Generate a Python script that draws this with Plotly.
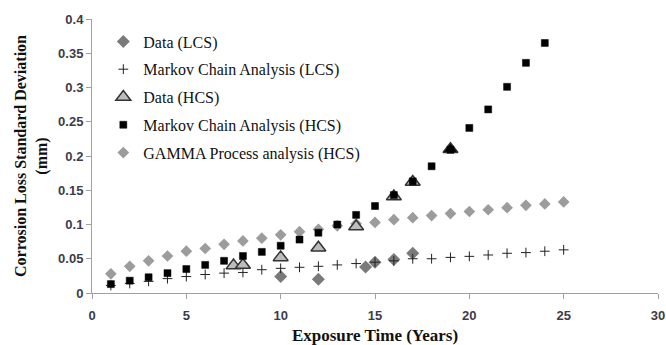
import plotly.graph_objects as go

# Data (LCS)
data_lcs_x = [10, 12, 14.5, 15, 16, 17]
data_lcs_y = [0.024, 0.020, 0.038, 0.045, 0.049, 0.058]

# Markov Chain Analysis (LCS)
mk_lcs_x = list(range(1, 26))
mk_lcs_y = [0.011, 0.014, 0.017, 0.021, 0.024, 0.027, 0.029, 0.030, 0.034, 0.036,
            0.0375, 0.039, 0.041, 0.043, 0.045, 0.047, 0.050, 0.050, 0.052, 0.0535,
            0.0555, 0.058, 0.059, 0.061, 0.063]

# Data (HCS)
data_hcs_x = [7.5, 8, 10, 12, 14, 16, 17, 19]
data_hcs_y = [0.040, 0.041, 0.052, 0.066, 0.097, 0.141, 0.162, 0.210]

# Markov Chain Analysis (HCS)
mk_hcs_x = list(range(1, 25))
mk_hcs_y = [0.013, 0.018, 0.023, 0.029, 0.035, 0.041, 0.047, 0.054, 0.060, 0.069,
            0.078, 0.088, 0.100, 0.114, 0.127, 0.143, 0.163, 0.185, 0.209, 0.241,
            0.268, 0.301, 0.336, 0.365]

# GAMMA Process analysis (HCS)
gamma_x = list(range(1, 26))
gamma_y = [0.028, 0.039, 0.047, 0.054, 0.061, 0.065, 0.071, 0.076, 0.080, 0.085,
           0.0895, 0.093, 0.098, 0.101, 0.103, 0.107, 0.110, 0.113, 0.116, 0.119,
           0.1215, 0.1245, 0.128, 0.130, 0.133]

x_ticks = [0, 5, 10, 15, 20, 25, 30]
y_ticks = [0, 0.05, 0.1, 0.15, 0.2, 0.25, 0.3, 0.35, 0.4]

tri_colors = ["#bdbdbd"] * (len(data_hcs_x) - 1) + ["#000000"]

fig = go.Figure()
fig.add_trace(go.Scatter(x=data_lcs_x, y=data_lcs_y, mode="markers", name="Data (LCS)",
                         legendgroup="a", legendrank=1001,
                         marker=dict(symbol="diamond", size=10, color="#7a7a7a")))
fig.add_trace(go.Scatter(x=mk_lcs_x, y=mk_lcs_y, mode="markers", name="Markov Chain Analysis (LCS)",
                         legendgroup="b", legendrank=1002,
                         marker=dict(symbol="cross-thin", size=7, color="#222",
                                     line=dict(width=1, color="#222"))))
fig.add_trace(go.Scatter(x=gamma_x, y=gamma_y, mode="markers", name="GAMMA Process analysis (HCS)",
                         legendgroup="e", legendrank=1005,
                         marker=dict(symbol="diamond", size=9, color="#9c9c9c")))
fig.add_trace(go.Scatter(x=data_hcs_x, y=data_hcs_y, mode="markers", name="Data (HCS)",
                         legendgroup="c", legendrank=1003,
                         marker=dict(symbol="triangle-up", size=13, color=tri_colors,
                                     line=dict(width=1.5, color="#333"))))
fig.add_trace(go.Scatter(x=mk_hcs_x, y=mk_hcs_y, mode="markers", name="Markov Chain Analysis (HCS)",
                         legendgroup="d", legendrank=1004,
                         marker=dict(symbol="square", size=7, color="#000",
                                     line=dict(width=0.5, color="#000"))))

tick_font = dict(family="Liberation Sans, Arial", size=13, color="#3c3c4a", weight="bold")
serif = "Liberation Serif, Times New Roman"

fig.update_layout(
    width=666, height=345,
    margin=dict(l=92, r=8, t=19, b=52),
    paper_bgcolor="white", plot_bgcolor="white",
    showlegend=True,
    legend=dict(x=0.02, y=0.98, xanchor="left", yanchor="top",
                font=dict(family=serif, size=16, color="#111"),
                tracegroupgap=4, bgcolor="rgba(0,0,0,0)", itemwidth=30),
    xaxis=dict(range=[0, 30], tickvals=x_ticks, showgrid=False, zeroline=False,
               automargin=False,
               showline=True, linecolor="#a0a0a0", linewidth=1,
               ticks="outside", ticklen=5, tickcolor="#a0a0a0",
               tickfont=tick_font, ticklabelstandoff=5,
               title=dict(text="<b>Exposure Time (Years)</b>",
                          font=dict(family=serif, size=17, color="#111"), standoff=7)),
    yaxis=dict(range=[0, 0.4], tickvals=y_ticks, showgrid=False, zeroline=False,
               automargin=False,
               showline=True, linecolor="#a0a0a0", linewidth=1,
               ticks="outside", ticklen=5, tickcolor="#a0a0a0",
               tickfont=tick_font,
               title=dict(text="<b>Corrosion Loss Standard Deviation<br>(mm)</b>",
                          font=dict(family=serif, size=16, color="#111"), standoff=6)),
)

fig.write_html("out.html", config={"displayModeBar": False},
               post_script="document.body.style.margin='0';document.body.style.overflow='hidden';")
